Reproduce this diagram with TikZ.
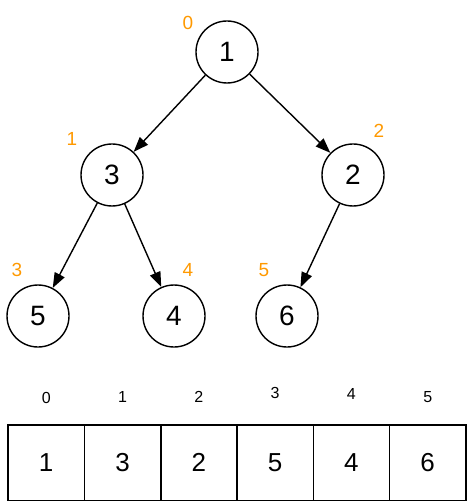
\documentclass[tikz,border=0pt]{standalone}
\usepackage{fontspec}
\setmainfont{Liberation Sans}
\usetikzlibrary{arrows.meta}
\definecolor{idxorange}{HTML}{FF9900}
\tikzset{
  heapnode/.style={draw, circle, line width=1.4pt, minimum size=62pt, inner sep=0pt, font=\fontsize{28}{28}\selectfont},
  heaplabel/.style={text=idxorange, font=\fontsize{19}{19}\selectfont},
  heapedge/.style={line width=1.4pt, -{Triangle[length=15pt,width=11pt]}},
  cellbox/.style={minimum width=76.3pt, minimum height=75pt, inner sep=0pt, font=\fontsize{26}{26}\selectfont},
  cellidx/.style={font=\fontsize{16}{16}\selectfont}
}
\begin{document}
\begin{tikzpicture}[x=1pt, y=-1pt]
\useasboundingbox (0,0) rectangle (468,502);
% Draw tree nodes
\node[heapnode] (n0) at (227,52) {1};
\node[heapnode] (n1) at (112,175) {3};
\node[heapnode] (n2) at (353,175) {2};
\node[heapnode] (n3) at (38,316) {5};
\node[heapnode] (n4) at (174,316) {4};
\node[heapnode] (n5) at (287,316) {6};
% Index labels
\node[heaplabel] (l0) at (188,23) {0};
\node[heaplabel] (l1) at (72,139) {1};
\node[heaplabel] (l2) at (379,131) {2};
\node[heaplabel] (l3) at (17,270) {3};
\node[heaplabel] (l4) at (188,270) {4};
\node[heaplabel] (l5) at (264,270) {5};
% Draw edges
\draw[heapedge] (n0) -- (n1);
\draw[heapedge] (n0) -- (n2);
\draw[heapedge] (n1) -- (n3);
\draw[heapedge] (n1) -- (n4);
\draw[heapedge] (n2) -- (n5);
% Draw array
\foreach \v/\y [count=\i from 0] in {1/398,3/397,2/397,5/393,4/394,6/397} {
  \node[cellbox] (c\i) at ({46.2+76.3*\i},462.5) {\v};
  \node[cellidx] (k\i) at ({46.2+76.3*\i},\y) {\i};
}
\draw[line width=1.4pt] (c0.north west) rectangle (c5.south east);
\foreach \i in {0,...,4}
  \draw[line width=1.4pt] (c\i.north east) -- (c\i.south east);
\end{tikzpicture}
\end{document}
